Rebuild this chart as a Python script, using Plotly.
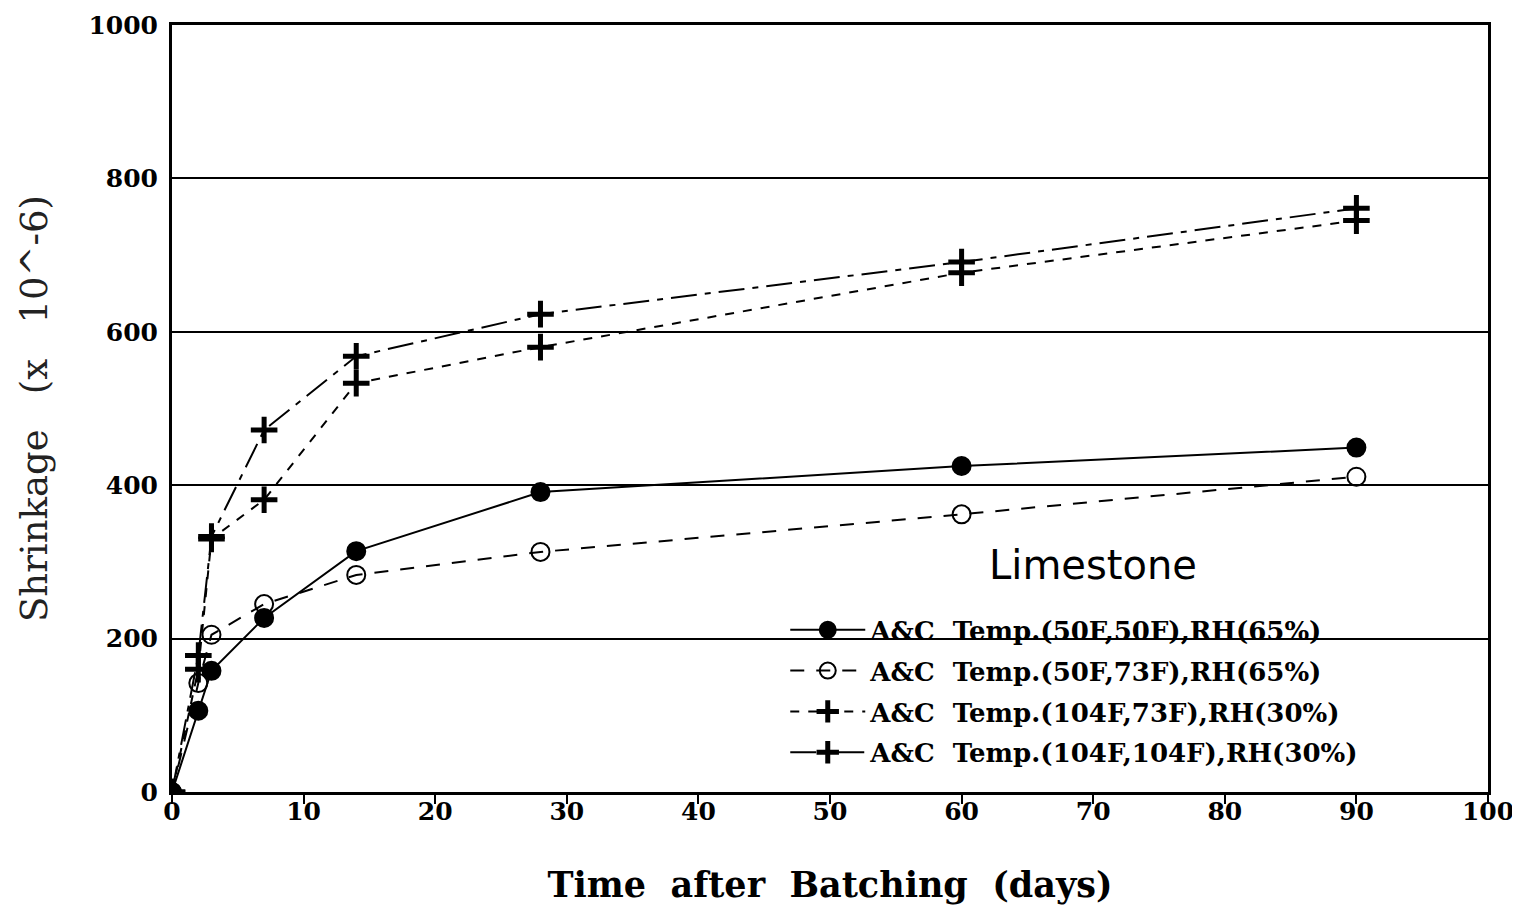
import plotly.graph_objects as go

# Shrinkage (x 10^-6) vs time after batching, limestone aggregate
days = [0, 2, 3, 7, 14, 28, 60, 90]

names = [
    "A&C\u00a0\u00a0Temp.(50F,50F),RH(65%)",
    "A&C\u00a0\u00a0Temp.(50F,73F),RH(65%)",
    "A&C\u00a0\u00a0Temp.(104F,73F),RH(30%)",
    "A&C\u00a0\u00a0Temp.(104F,104F),RH(30%)",
]
shrink_50_50 = [0, 106, 158, 227, 314, 391, 425, 449]
shrink_50_73 = [0, 142, 205, 245, 283, 313, 362, 411]
shrink_104_73 = [0, 160, 330, 381, 533, 580, 677, 745]
shrink_104_104 = [0, 178, 333, 472, 568, 623, 691, 761]

TICK_FONT = dict(family="DejaVu Serif", size=25, color="black", weight="bold")

styles = [
    dict(dash="solid", symbol="circle", size=18, lw=2),
    dict(dash="14px,12px", symbol="circle-open", size=18, lw=2),
    dict(dash="9px,9px", symbol="cross-thin-open", size=19, lw=5),
    dict(dash="26px,8px,6px,8px", symbol="cross-thin-open", size=19, lw=5),
]

fig = go.Figure()
for i, (name, vals) in enumerate(zip(names, [shrink_50_50, shrink_50_73, shrink_104_73, shrink_104_104])):
    st = styles[i]
    fig.add_trace(
        go.Scatter(
            x=days,
            y=vals,
            mode="lines+markers",
            name=name,
            legendgroup=f"g{i}",
            line=dict(color="black", width=2, dash=st["dash"]),
            marker=dict(
                symbol=st["symbol"],
                size=st["size"],
                color="black",
                line=dict(color="black", width=st["lw"]),
            ),
        )
    )

fig.add_annotation(
    x=70,
    y=296,
    text="Limestone",
    showarrow=False,
    font=dict(family="DejaVu Sans", size=40, color="black"),
)

# page body adds an 8px offset, so margins are shifted to compensate
fig.update_layout(
    width=1520,
    height=915,
    paper_bgcolor="white",
    plot_bgcolor="white",
    margin=dict(l=164, r=40, t=17, b=131),
    showlegend=True,
    legend=dict(
        x=0.466,
        y=0.242,
        xanchor="left",
        yanchor="top",
        bgcolor="rgba(0,0,0,0)",
        font=dict(family="DejaVu Serif", size=26, color="black", weight="bold"),
        itemwidth=75,
        tracegroupgap=4,
        traceorder="grouped",
    ),
    xaxis=dict(
        range=[0, 100],
        tickvals=list(range(0, 101, 10)),
        ticks="outside",
        ticklen=9,
        tickwidth=2,
        tickcolor="black",
        tickfont=TICK_FONT,
        ticklabelstandoff=-14,
        showgrid=False,
        zeroline=False,
        showline=True,
        linecolor="black",
        linewidth=3,
        mirror=True,
        automargin=False,
        title=dict(
            text="Time\u00a0\u00a0after\u00a0\u00a0Batching\u00a0\u00a0(days)",
            font=dict(family="DejaVu Serif", size=35, color="black", weight="bold"),
            standoff=48,
        ),
    ),
    yaxis=dict(
        range=[0, 1000],
        tickvals=list(range(0, 1001, 200)),
        ticks="",
        tickfont=TICK_FONT,
        ticklabelstandoff=6,
        showgrid=True,
        gridcolor="black",
        gridwidth=2,
        zeroline=False,
        showline=True,
        linecolor="black",
        linewidth=3,
        mirror=True,
        automargin=False,
        title=dict(
            text="Shrinkage\u00a0\u00a0\u00a0(x\u00a0\u00a0\u00a010^-6)",
            font=dict(family="DejaVu Serif", size=37, color="#222222"),
            standoff=30,
        ),
    ),
)

fig.write_html("out.html")
